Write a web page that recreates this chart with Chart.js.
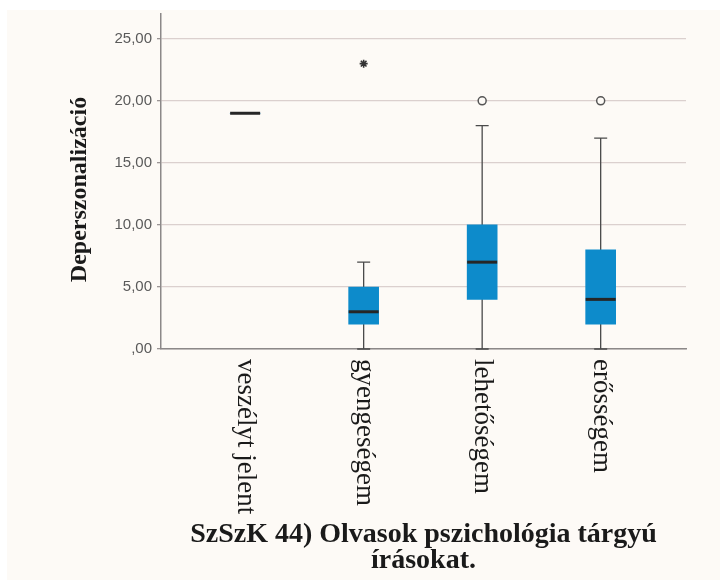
<!DOCTYPE html>
<html>
<head>
<meta charset="utf-8">
<script src="https://cdn.jsdelivr.net/npm/chart.js@4/dist/chart.umd.min.js"></script>
<style>
  html, body { margin: 0; padding: 0; background: #ffffff; }
  #panel { position: absolute; left: 7px; top: 10px; width: 713px; height: 570px; background: #fdfaf6; }
  #wrap { position: absolute; left: 0; top: 0; width: 720px; height: 582px; }
</style>
</head>
<body>
<div id="panel"></div>
<div id="wrap"><canvas id="chart" width="720" height="582"></canvas></div>
<script>
// Groups (x axis) and the five-number summaries of Deperszonalizáció per group
const categories = ['veszélyt jelent', 'gyengeségem', 'lehetőségem', 'erősségem'];
const whiskerLow  = [19, 0, 0, 0];
const q1          = [19, 2, 4, 2];
const median      = [19, 3, 7, 4];
const q3          = [19, 5, 10, 8];
const whiskerHigh = [19, 7, 18, 17];
// Outliers (circles) and extreme values (stars), one list per group
const outliers = [[], [], [20], [20]];
const extremes = [[], [23], [], []];
// Y axis ticks
const yTicks = [0, 5, 10, 15, 20, 25];

const yTitle = 'Deperszonalizáció';
const xTitle = ['SzSzK 44) Olvasok pszichológia tárgyú', 'írásokat.'];

const boxColor = '#0d8bcb';
const gridColor = '#dbd0ce';
const axisColor = '#8c8888';

function points(lists) {
  const out = [];
  lists.forEach((vals, i) => vals.forEach(v => out.push({ x: i, y: v })));
  return out;
}

function fmt(v) {
  const s = v.toFixed(2).replace('.', ',');
  return v === 0 ? ',00' : s;
}

const boxParts = {
  id: 'boxParts',
  beforeDatasetsDraw(chart) {
    const { ctx, scales: { x, y } } = chart;
    ctx.save();
    ctx.strokeStyle = '#4a4a4a';
    ctx.lineWidth = 1.3;
    const cap = 6.5;
    categories.forEach((c, i) => {
      if (whiskerLow[i] === whiskerHigh[i]) return;
      const px = x.getPixelForValue(i);
      const yLo = y.getPixelForValue(whiskerLow[i]);
      const yHi = y.getPixelForValue(whiskerHigh[i]);
      ctx.beginPath();
      ctx.moveTo(px, yLo); ctx.lineTo(px, yHi);
      ctx.moveTo(px - cap, yLo); ctx.lineTo(px + cap, yLo);
      ctx.moveTo(px - cap, yHi); ctx.lineTo(px + cap, yHi);
      ctx.stroke();
    });
    ctx.restore();
  },
  afterDatasetsDraw(chart) {
    const { ctx, scales: { x, y } } = chart;
    ctx.save();
    ctx.strokeStyle = '#262626';
    ctx.lineWidth = 3;
    const half = 15;
    categories.forEach((c, i) => {
      const px = x.getPixelForValue(i);
      const py = y.getPixelForValue(median[i]);
      ctx.beginPath();
      ctx.moveTo(px - half, py); ctx.lineTo(px + half, py);
      ctx.stroke();
    });
    ctx.restore();
  },
  afterDraw(chart) {
    const { ctx, chartArea, scales: { x } } = chart;
    ctx.save();
    ctx.fillStyle = '#1a1a1a';
    // category labels, reading downwards from the axis
    ctx.font = '27px "Liberation Serif", "Times New Roman", serif';
    ctx.textAlign = 'left';
    ctx.textBaseline = 'middle';
    categories.forEach((c, i) => {
      const px = x.getPixelForValue(i);
      ctx.save();
      ctx.translate(px, chartArea.bottom + 10);
      ctx.rotate(Math.PI / 2);
      ctx.fillText(c, 0, 0);
      ctx.restore();
    });
    // y axis title
    ctx.font = 'bold 24px "Liberation Serif", "Times New Roman", serif';
    ctx.textAlign = 'center';
    ctx.save();
    ctx.translate(80, (chartArea.top + chartArea.bottom) / 2 + 8);
    ctx.rotate(-Math.PI / 2);
    ctx.fillText(yTitle, 0, 0);
    ctx.restore();
    // x axis title
    ctx.font = 'bold 28px "Liberation Serif", "Times New Roman", serif';
    const cx = (chartArea.left + chartArea.right) / 2;
    xTitle.forEach((line, k) => ctx.fillText(line, cx, 535 + k * 26));
    ctx.restore();
  }
};

new Chart(document.getElementById('chart'), {
  type: 'bar',
  data: {
    datasets: [
      {
        type: 'bar',
        data: categories.map((c, i) => ({ x: i, y: [q1[i], q3[i]] })),
        backgroundColor: boxColor,
        borderWidth: 0,
        barThickness: 30,
        order: 3
      },
      {
        type: 'scatter',
        data: points(outliers),
        pointStyle: 'circle',
        pointRadius: 4,
        pointBackgroundColor: '#fdfaf6',
        pointBorderColor: '#555555',
        pointBorderWidth: 1.5,
        order: 2
      },
      {
        type: 'scatter',
        data: points(extremes),
        pointStyle: 'star',
        pointRadius: 4,
        pointBorderColor: '#333333',
        pointBorderWidth: 1.6,
        order: 1
      }
    ]
  },
  options: {
    responsive: false,
    animation: false,
    layout: { padding: { left: 66, top: 10, right: 34, bottom: 0 } },
    plugins: { legend: { display: false }, tooltip: { enabled: false } },
    scales: {
      x: {
        type: 'linear',
        min: -0.71,
        max: 3.72,
        offset: false,
        afterBuildTicks: s => { s.ticks = categories.map((c, i) => ({ value: i })); },
        afterFit: s => { s.height = 233; },
        ticks: { display: false },
        grid: { display: false, drawTicks: false },
        border: { display: true, color: axisColor, width: 1.5 }
      },
      y: {
        min: 0,
        max: 27,
        afterBuildTicks: s => { s.ticks = yTicks.map(v => ({ value: v })); },
        afterFit: s => { s.width = 95; },
        ticks: {
          callback: v => fmt(v),
          color: '#5a5a5a',
          font: { family: '"Liberation Sans", Arial, sans-serif', size: 15 },
          padding: 5
        },
        grid: { color: gridColor, lineWidth: 1.3, tickLength: 4, tickColor: '#9a9494' },
        border: { display: true, color: axisColor, width: 1.5 }
      }
    }
  },
  plugins: [boxParts]
});
</script>
</body>
</html>
